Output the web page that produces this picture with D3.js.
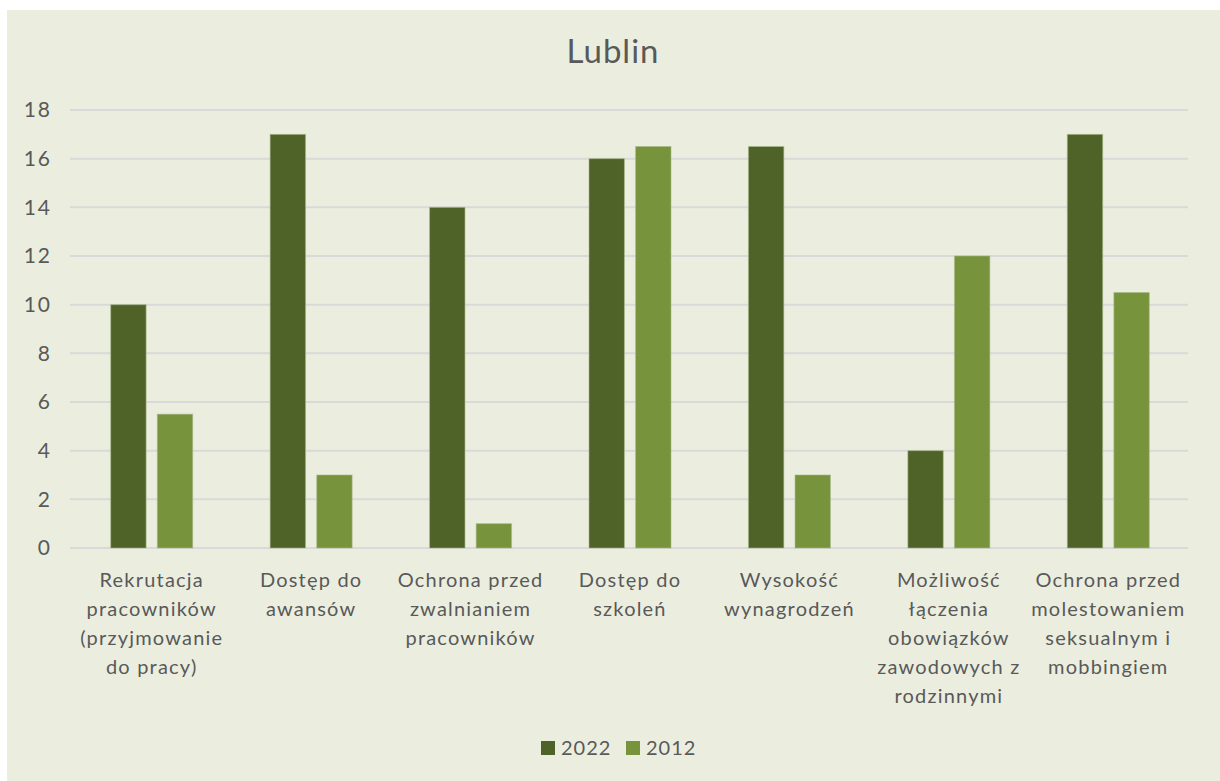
<!DOCTYPE html>
<html>
<head>
<meta charset="utf-8">
<script src="https://cdn.jsdelivr.net/npm/d3@7"></script>
<style>
  html, body { margin: 0; padding: 0; background: #ffffff; }
  svg { display: block; }
  text { font-family: Lato, "Open Sans", sans-serif; fill: #595959; }
</style>
</head>
<body>
<svg id="chart" width="1220" height="781"></svg>
<script>
// Survey categories (each label split into lines as displayed)
const categories = [
  ["Rekrutacja", "pracowników", "(przyjmowanie", "do pracy)"],
  ["Dostęp do", "awansów"],
  ["Ochrona przed", "zwalnianiem", "pracowników"],
  ["Dostęp do", "szkoleń"],
  ["Wysokość", "wynagrodzeń"],
  ["Możliwość", "łączenia", "obowiązków", "zawodowych z", "rodzinnymi"],
  ["Ochrona przed", "molestowaniem", "seksualnym i", "mobbingiem"]
];
const seriesNames = ["2022", "2012"];
const values2022 = [10, 17, 14, 16, 16.5, 4, 17];
const values2012 = [5.5, 3, 1, 16.5, 3, 12, 10.5];
const yTicks = [0, 2, 4, 6, 8, 10, 12, 14, 16, 18];
const colors = ["#4F6228", "#77933C"];

const svg = d3.select("#chart");
const W = 1220, H = 781;

// chart panel
svg.append("rect")
  .attr("x", 7).attr("y", 10)
  .attr("width", W - 7).attr("height", H - 10)
  .attr("fill", "#EBEEDF");

const plot = { left: 70, right: 1188, top: 110, bottom: 548 };

const x0 = d3.scaleBand()
  .domain(d3.range(categories.length))
  .range([plot.left + 2, plot.right])
  .paddingInner(0).paddingOuter(0);

const x1 = d3.scaleBand()
  .domain(seriesNames)
  .range([x0.bandwidth() / 2 - 41, x0.bandwidth() / 2 + 41])
  .paddingInner(0.24);

const y = d3.scaleLinear().domain([0, 18]).range([plot.bottom, plot.top]);

// title
svg.append("text")
  .attr("x", 613).attr("y", 63)
  .attr("text-anchor", "middle")
  .style("font-size", "33px")
  .style("letter-spacing", "1px")
  .text("Lublin");

// gridlines
svg.append("g")
  .selectAll("line")
  .data(yTicks)
  .join("line")
  .attr("x1", plot.left).attr("x2", plot.right)
  .attr("y1", d => y(d)).attr("y2", d => y(d))
  .attr("stroke", "#D9D9D9")
  .attr("stroke-width", 2);

// y axis labels
const yAxis = d3.axisLeft(y).tickValues(yTicks).tickSize(0).tickPadding(18);
const yg = svg.append("g")
  .attr("transform", `translate(${plot.left},0)`)
  .call(yAxis);
yg.select(".domain").remove();
yg.selectAll("text")
  .style("font-size", "21px")
  .style("letter-spacing", "2px")
  .style("font-family", "Lato, 'Open Sans', sans-serif")
  .attr("fill", "#595959");

// bars
const rows = categories.map((c, i) => ({ i, vals: [values2022[i], values2012[i]] }));
const groups = svg.append("g")
  .selectAll("g")
  .data(rows)
  .join("g")
  .attr("transform", d => `translate(${x0(d.i)},0)`);

groups.selectAll("rect")
  .data(d => d.vals.map((v, k) => ({ key: seriesNames[k], v, k })))
  .join("rect")
  .attr("x", d => x1(d.key))
  .attr("width", x1.bandwidth())
  .attr("y", d => y(d.v))
  .attr("height", d => y(0) - y(d.v))
  .attr("fill", d => colors[d.k])
  .attr("stroke", "#A9B98A")
  .attr("stroke-width", 1)
  .attr("stroke-opacity", 0.6);

// category labels
const catG = svg.append("g");
categories.forEach((lines, i) => {
  const cx = x0(i) + x0.bandwidth() / 2;
  const t = catG.append("text")
    .attr("x", cx)
    .attr("y", 587)
    .attr("text-anchor", "middle")
    .style("font-size", "20px")
    .style("letter-spacing", "1.2px");
  lines.forEach((ln, j) => {
    t.append("tspan")
      .attr("x", cx)
      .attr("dy", j === 0 ? 0 : 29)
      .text(ln);
  });
});

// legend
const legend = svg.append("g");
const legendItems = [
  { name: seriesNames[0], color: colors[0], x: 541 },
  { name: seriesNames[1], color: colors[1], x: 626 }
];
legendItems.forEach(it => {
  legend.append("rect")
    .attr("x", it.x).attr("y", 741)
    .attr("width", 14).attr("height", 14)
    .attr("fill", it.color);
  legend.append("text")
    .attr("x", it.x + 20).attr("y", 755)
    .style("font-size", "20px")
    .style("letter-spacing", "1px")
    .text(it.name);
});
</script>
</body>
</html>
